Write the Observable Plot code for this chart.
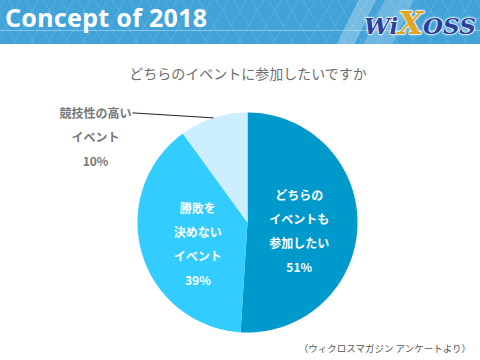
<!DOCTYPE html>
<html><head><meta charset="utf-8">
<script src="https://cdn.jsdelivr.net/npm/d3@7"></script>
<script src="https://cdn.jsdelivr.net/npm/@observablehq/plot@0.6"></script>
<style>
html,body{margin:0;padding:0;background:#fff;}
#wrap{position:relative;width:480px;height:360px;overflow:hidden;background:#fff;font-family:"Noto Sans CJK JP","Noto Sans",sans-serif;}
#header{position:absolute;left:0;top:0;width:480px;height:44px;
 background:
  linear-gradient(116deg, transparent 0 322px, rgba(255,255,255,0.28) 322px 338px, transparent 338px 346px, rgba(255,255,255,0.22) 346px 372px, transparent 372px 455px, rgba(255,255,255,0.25) 455px 470px, transparent 470px),
  linear-gradient(to bottom, transparent 0 30px, rgba(255,255,255,0.35) 30px 31px, transparent 31px),
  repeating-linear-gradient(60deg, transparent 0 14px, rgba(255,255,255,0.10) 14px 15px),
  repeating-linear-gradient(-60deg, transparent 0 14px, rgba(255,255,255,0.10) 14px 15px),
  #42a3d8;}
#htitle{position:absolute;left:5px;top:0px;color:#fff;font-family:"Noto Sans",sans-serif;font-weight:bold;font-size:25px;letter-spacing:0.3px;}
#logo{position:absolute;left:364px;top:5px;width:102px;height:36px;text-align:center;font-family:"DejaVu Serif",serif;font-weight:bold;font-style:italic;font-size:23px;line-height:36px;color:#2c3f9c;-webkit-text-stroke:1px #ffffff;paint-order:stroke fill;text-shadow:0 0 2px #fff,0 0 3px #fff;}
#logo .x{color:#e3a420;font-size:32px;}
#qtitle{position:absolute;left:0;top:63px;width:496px;text-align:center;color:#6e6e6e;font-size:14px;}
#caption{position:absolute;right:9px;top:341px;color:#555;font-size:9.5px;}
#chart{position:absolute;left:0;top:0;}
</style></head>
<body>
<div id="wrap">
 <div id="chart"></div>
 <div id="header"><div id="htitle">Concept of 2018</div><div id="logo">Wi<span class="x">X</span>OSS</div></div>
 <div id="qtitle">どちらのイベントに参加したいですか</div>
 <div id="caption">（ウィクロスマガジン アンケートより）</div>
</div>
<script>
const categories = ["どちらのイベントも参加したい", "勝敗を決めないイベント", "競技性の高いイベント"];
const percents = [51, 39, 10];
const labelLines = [["どちらの", "イベントも", "参加したい"], ["勝敗を", "決めない", "イベント"], ["競技性の高い", "イベント"]];
const colors = ["#0099cc", "#33ccff", "#cceeff"];

const total = d3.sum(percents);
const pie = d3.pie().sort(null).value(d => d)(percents);

// slice outlines in unit-circle coordinates (angle measured clockwise from 12 o'clock)
const pt = (a, r) => [r * Math.sin(a), r * Math.cos(a)];
const slicePts = [];
pie.forEach((s, i) => {
  const n = Math.max(2, Math.ceil((s.endAngle - s.startAngle) / (Math.PI / 180)));
  slicePts.push({k: i, x: 0, y: 0});
  for (let j = 0; j <= n; j++) {
    const a = s.startAngle + (s.endAngle - s.startAngle) * j / n;
    const [x, y] = pt(a, 1);
    slicePts.push({k: i, x, y});
  }
  slicePts.push({k: i, x: 0, y: 0});
});

const inside = pie.slice(0, 2).map((s, i) => {
  const [x, y] = pt((s.startAngle + s.endAngle) / 2, 0.47);
  return {x, y, text: labelLines[i].join("\n") + "\n" + percents[i] + "%"};
});
const s3 = pie[2];
const [ox, oy] = pt((s3.startAngle + s3.endAngle) / 2, 1);
const outside = [{x: ox, y: oy, text: labelLines[2].join("\n") + "\n" + percents[2] + "%"}];
const leader = [{x1: ox, y1: oy, x2: ox - 81 / 110, y2: oy + 5 / 110}];

const chart = Plot.plot({
  width: 480, height: 360,
  margin: 0,
  style: {background: "transparent", fontFamily: "'Noto Sans CJK JP', sans-serif"},
  x: {domain: [-1, 1], range: [137, 357], axis: null},
  y: {domain: [-1, 1], range: [332, 112], axis: null},
  color: {domain: [0, 1, 2], range: colors},
  marks: [
    Plot.line(slicePts, {x: "x", y: "y", z: "k", fill: d => colors[d.k], stroke: null, curve: "linear"}),
    Plot.text(inside, {x: "x", y: "y", text: "text", fill: "white", fontSize: 12, fontWeight: "bold", lineHeight: 2, dy: 4}),
    Plot.link(leader, {x1: "x1", y1: "y1", x2: "x2", y2: "y2", stroke: "#222", strokeWidth: 1}),
    Plot.text(outside, {x: "x", y: "y", text: "text", fill: "#777", fontSize: 12, fontWeight: "bold", lineHeight: 2, dx: -118, dy: 16})
  ]
});
document.getElementById("chart").appendChild(chart);
</script>
</body></html>
